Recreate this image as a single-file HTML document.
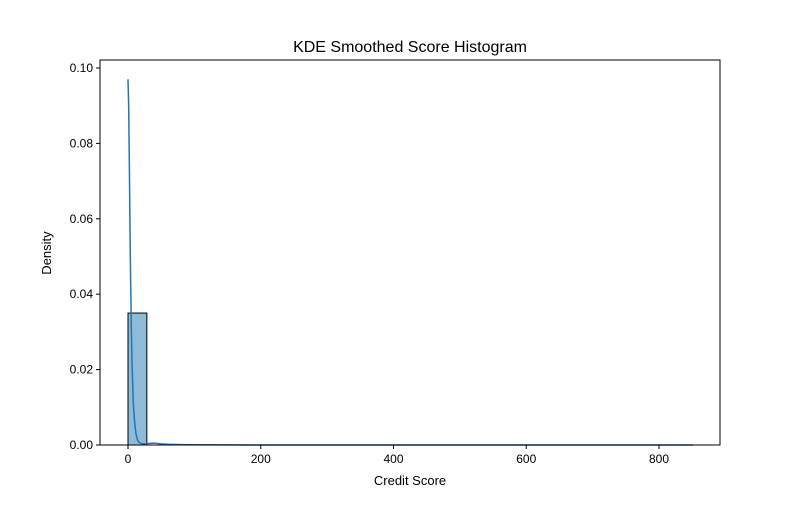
<!DOCTYPE html>
<html><head><meta charset="utf-8"><style>
body{margin:0;background:#fff;font-family:"Liberation Sans","DejaVu Sans",sans-serif}
</style></head><body>
<svg width="800" height="500" xmlns="http://www.w3.org/2000/svg">
<g id="plot"></g>
</svg>
<script>
const binEdges=[0,28.4];
const binDensity=[0.035];
const kdeX=[0,1,2,3,4,5,6,8,10,12,14,16,20,25,30,40,50,60,80,100,200,400,600,800,851];
const kdeY=[0.097,0.09,0.075,0.058,0.043,0.031,0.022,0.011,0.006,0.003,0.0015,0.0008,0.0004,0.0003,0.0004,0.0005,0.0003,0.0002,0.0001,0.00005,0,0,0,0,0];
const xTicks=[0,200,400,600,800];
const yTicks=[0,0.02,0.04,0.06,0.08,0.10];
const yTickLabels=["0.00","0.02","0.04","0.06","0.08","0.10"];
const L=100,R=720,T=60,B=445;
const xs=v=>128+v*(659-128)/800;
const ys=v=>445-v*(445-68)/0.1;
const ns="http://www.w3.org/2000/svg";
const g=document.getElementById('plot');
function mk(t,a,txt){const e=document.createElementNS(ns,t);for(const k in a)e.setAttribute(k,a[k]);if(txt!==undefined)e.textContent=txt;g.appendChild(e);return e;}
for(let i=0;i<binDensity.length;i++){
 const e=mk('rect',{x:xs(binEdges[i]),y:ys(binDensity[i]),width:xs(binEdges[i+1])-xs(binEdges[i]),height:ys(0)-ys(binDensity[i]),fill:'rgba(31,119,180,0.5)',stroke:'#000','stroke-width':1});
 
 
}
const kde=mk('polyline',{points:kdeX.map((x,i)=>xs(x)+','+ys(kdeY[i])).join(' '),fill:'none',stroke:'#1f77b4','stroke-width':1.5});


const fr=mk('rect',{x:L,y:T,width:R-L,height:B-T,fill:'none',stroke:'#000','stroke-width':1});


xTicks.forEach(v=>{
 mk('line',{x1:xs(v),x2:xs(v),y1:B,y2:B+4,stroke:'#000'});
 const t=mk('text',{x:xs(v),y:B+18,'text-anchor':'middle','font-size':12},String(v));
 
 
});
yTicks.forEach((v,i)=>{
 mk('line',{x1:L-4,x2:L,y1:ys(v),y2:ys(v),stroke:'#000'});
 const t=mk('text',{x:L-7,y:ys(v)+4,'text-anchor':'end','font-size':12},yTickLabels[i]);
 
 
});
const xt=mk('text',{x:410,y:485,'text-anchor':'middle','font-size':13},'Credit Score');


const yt=mk('text',{x:51,y:253,'text-anchor':'middle','font-size':13,transform:'rotate(-90 51 253)'},'Density');


const ti=mk('text',{x:410,y:52,'text-anchor':'middle','font-size':16},'KDE Smoothed Score Histogram');


</script>
</body></html>
